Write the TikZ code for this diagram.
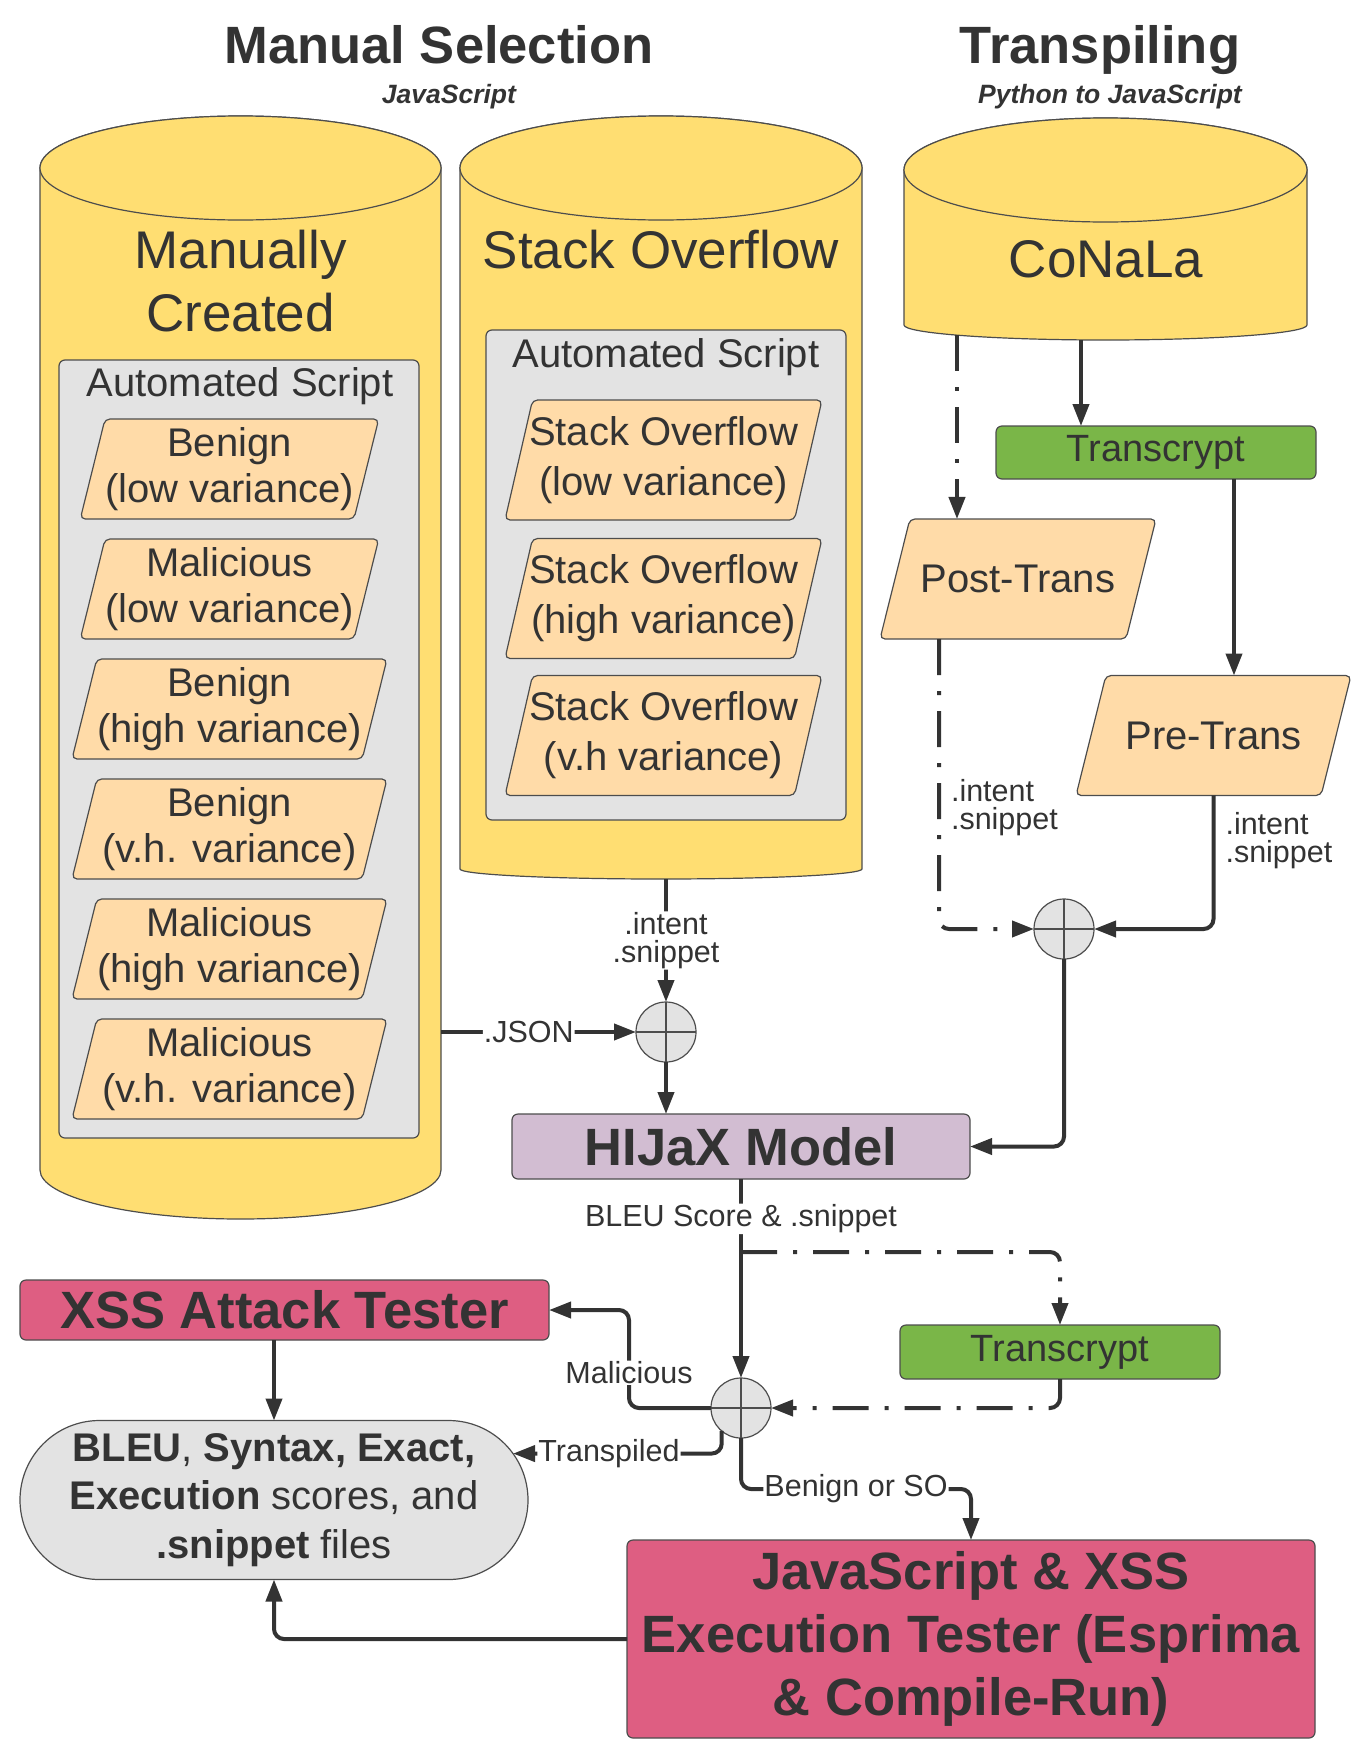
\documentclass[tikz,border=0pt]{standalone}
\usepackage{fontspec}
\setmainfont{Liberation Sans}
\usepackage{xcolor}
\usepackage{tikz}
\usetikzlibrary{arrows.meta,shapes.geometric,shapes.misc}
\definecolor{cylyellow}{HTML}{FFDE72}
\definecolor{grpgray}{HTML}{E3E3E3}
\definecolor{peach}{HTML}{FFDBA8}
\definecolor{lime}{HTML}{7AB648}
\definecolor{mauve}{HTML}{D2BDD2}
\definecolor{rose}{HTML}{DE5E82}
\definecolor{ink}{HTML}{333333}
\definecolor{edge}{HTML}{4D4D4D}
\newcommand{\pxfont}[2]{\fontsize{#1pt}{#2pt}\selectfont}
% left x, right x, top y, bottom of sides, depth of bottom arc
\newcommand{\dbcyl}[5]{%
    \draw[fill=cylyellow,draw=edge,line width=1.2pt] (#1,{#3+52}) -- (#1,#4)
        arc[start angle=180,end angle=0,x radius={(#2-#1)/2},y radius=#5] -- (#2,{#3+52})
        arc[start angle=0,end angle=-180,x radius={(#2-#1)/2},y radius=52] -- cycle;
    \draw[fill=cylyellow,draw=edge,line width=1.2pt] ({(#1+#2)/2},{#3+52}) ellipse[x radius={(#2-#1)/2},y radius=52];}

\begin{document}
\begin{tikzpicture}[x=1pt,y=-1pt,
        every node/.style={text=ink},
        ttl/.style={font=\pxfont{52.5}{60}\bfseries,anchor=base},
        sub/.style={font=\pxfont{26.5}{30}\bfseries\itshape,anchor=base},
        cyltxt/.style={font=\pxfont{53}{63},align=center},
        grp/.style={rectangle,rounded corners=6pt,fill=grpgray,draw=edge,line width=1.2pt,outer sep=0pt},
        grptxt/.style={font=\pxfont{40}{46},anchor=base},
        para/.style={trapezium,trapezium left angle=76,trapezium right angle=104,trapezium stretches body=true,
            rounded corners=5pt,fill=peach,draw=edge,line width=1.2pt,inner xsep=0pt,inner ysep=8pt,outer sep=0pt,
            minimum height=100pt,align=center,font=\pxfont{40}{46}},
        sopara/.style={para,trapezium left angle=77,trapezium right angle=103,inner xsep=-5pt,inner ysep=16pt,
            minimum width=317pt,minimum height=120pt},
        tool/.style={rectangle,rounded corners=6pt,fill=lime,draw=edge,line width=1.2pt,outer sep=0pt,font=\pxfont{38}{44}},
        model/.style={rectangle,rounded corners=6pt,fill=mauve,draw=edge,line width=1.2pt,outer sep=0pt,font=\pxfont{52.5}{60}\bfseries},
        tester/.style={rectangle,rounded corners=6pt,fill=rose,draw=edge,line width=1.2pt,outer sep=0pt,align=center,font=\pxfont{52.5}{63}\bfseries},
        result/.style={rounded rectangle,fill=grpgray,draw=edge,line width=1.2pt,outer sep=0pt,inner sep=0pt,align=center,font=\pxfont{40}{48.5}},
        junc/.style={circle,minimum size=60pt,inner sep=0pt,outer sep=0pt,fill=grpgray,draw=edge,line width=1.2pt,
            path picture={\draw[edge,line width=1.2pt] (path picture bounding box.north) -- (path picture bounding box.south)
                (path picture bounding box.west) -- (path picture bounding box.east);}},
        conn/.style={draw=ink,line width=4pt,rounded corners=10pt,-{Triangle[length=22pt,width=16pt]}},
        dashdot/.style={dash pattern=on 36pt off 16pt on 4pt off 16pt},
        lbl/.style={font=\pxfont{30.5}{28},fill=white,inner sep=1pt,align=center},
        side/.style={font=\pxfont{30.5}{28},anchor=west,xshift=9pt,inner sep=1pt,align=left}]
    \useasboundingbox (0,0) rectangle (1358,1743);

    % Headings
    \node[ttl] (mansel) at (439,63) {Manual Selection};
    \node[sub] (manjs) at (449,103) {JavaScript};
    \node[ttl] (transp) at (1100,63) {Transpiling};
    \node[sub] (pyjs) at (1110,103) {Python to JavaScript};

    % Data sources
    \dbcyl{40}{441}{116}{1170}{49}
    \dbcyl{460}{862}{116}{869}{10}
    \dbcyl{904}{1307}{118}{325}{15}
    \node[cyltxt] (manual) at (240.5,281) {Manually\\Created};
    \node[cyltxt,anchor=base] (stack) at (661,268) {Stack Overflow};
    \node[cyltxt,anchor=base] (conala) at (1106,277) {CoNaLa};

    \node[grp,minimum width=360pt,minimum height=778pt] (mangrp) at (239,749) {};
    \node[grp,minimum width=360pt,minimum height=490pt] (sogrp) at (666,575) {};
    \node[grptxt] (manauto) at (240,396) {Automated Script};
    \node[grptxt] (soauto) at (666,367) {Automated Script};

    \node[para,minimum width=295pt] (benlow) at (229.5,469) {Benign\\(low variance)};
    \node[para,minimum width=295pt] (mallow) at (229.5,589) {Malicious\\(low variance)};
    \node[para,minimum width=315pt] (benhigh) at (229.5,709) {Benign\\(high variance)};
    \node[para,minimum width=315pt] (benvh) at (229.5,829) {Benign\\(v.h. variance)};
    \node[para,minimum width=315pt] (malhigh) at (229.5,949) {Malicious\\(high variance)};
    \node[para,minimum width=315pt] (malvh) at (229.5,1069) {Malicious\\(v.h. variance)};

    \node[sopara] (solow) at (663.5,460) {Stack Overflow\\[4pt](low variance)};
    \node[sopara] (sohigh) at (663.5,598.5) {Stack Overflow\\[4pt](high variance)};
    \node[sopara] (sovh) at (663.5,735.5) {Stack Overflow\\[4pt](v.h variance)};

    % Transpiling
    \node[tool,minimum width=320pt,minimum height=53pt] (tcone) at (1156,452.5) {Transcrypt};
    \node[para,minimum width=276pt,minimum height=120pt,inner ysep=46pt] (post) at (1018,579) {Post-Trans};
    \node[para,minimum width=275pt,minimum height=119pt,inner ysep=46pt] (pre) at (1213.5,735.5) {Pre-Trans};

    \node[junc] (jso) at (666,1032) {};
    \node[junc] (jtr) at (1064,929) {};
    \node[junc] (jout) at (741,1408) {};

    \node[model,minimum width=458pt,minimum height=65pt] (hijax) at (741,1146.5) {HIJaX Model};
    \node[tool,minimum width=320pt,minimum height=54pt] (tctwo) at (1060,1352) {Transcrypt};
    \node[tester,minimum width=529pt,minimum height=60pt] (xss) at (284.5,1310) {XSS Attack Tester};
    \node[tester,minimum width=688pt,minimum height=198pt] (jsexec) at (971,1639) {JavaScript \& XSS\\Execution Tester (Esprima\\\& Compile-Run)};
    \node[result,minimum width=508pt,minimum height=159pt] (scores) at (274,1500)
        {\textbf{BLEU}, \textbf{Syntax, Exact,}\\\textbf{Execution} scores, and\\\textbf{.snippet} files};

    \coordinate (manout) at (441,1032);
    \coordinate (soout) at (666,879);
    \coordinate (conpost) at (957,335);
    \coordinate (contc) at (1081,340);
    \coordinate (split) at (741,1252);
    \coordinate (malbend) at (629,1310);

    % Connectors
    \draw[conn] (soout) -- node[lbl] {.intent\\.snippet} (jso.north);
    \draw[conn] (manout) -- node[lbl,pos=0.45] {.JSON} (jso.west);
    \draw[conn] (jso.south) -- (jso.south |- hijax.north);
    \draw[conn] (contc) -- (contc |- tcone.north);
    \draw[conn,dashdot] (conpost) -- (conpost |- post.north);
    \draw[conn] ([xshift=78pt]tcone.south) -- ([xshift=78pt]tcone.south |- pre.north);
    \draw[conn,dashdot] ([xshift=-79pt]post.south) |- node[side,pos=0.29] {.intent\\.snippet} (jtr.west);
    \draw[conn] (pre.south) |- node[side,pos=0.17] {.intent\\.snippet} (jtr.east);
    \draw[conn] (jtr.south) |- (hijax.east);

    \draw[conn] (hijax.south) -- node[lbl,pos=0.2] {BLEU Score \& .snippet} (jout.north);
    \draw[conn,dashdot] (split) -| (tctwo.north);
    \draw[conn,dashdot] (tctwo.south) |- (jout.east);
    \draw[conn] (jout.west) -| node[lbl,pos=0.68] {Malicious} (malbend) -- (xss.east);
    \draw[conn] (jout.230) |- node[lbl,pos=0.77] {Transpiled} (scores.11);
    \draw[conn] (jout.south) -- ++(0,51) -| node[lbl,pos=0.25] {Benign or SO} (jsexec.north);
    \draw[conn] (scores.north |- xss.south) -- (scores.north);
    \draw[conn] (jsexec.west) -| (scores.south);
\end{tikzpicture}
\end{document}
